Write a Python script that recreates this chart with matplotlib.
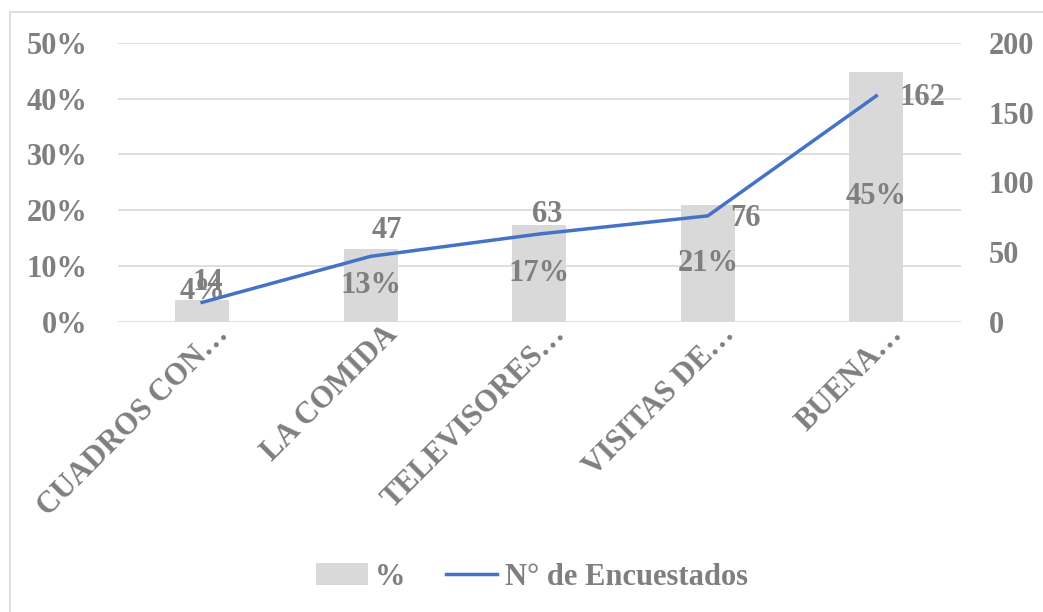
import matplotlib
matplotlib.use("Agg")
import matplotlib.pyplot as plt
from matplotlib.patches import Rectangle
from matplotlib.ticker import PercentFormatter
from matplotlib.transforms import ScaledTranslation

categorias = ["CUADROS CON…", "LA COMIDA", "TELEVISORES…", "VISITAS DE…", "BUENA…"]
encuestados = [14, 47, 63, 76, 162]
porcentaje = [0.039, 0.130, 0.174, 0.210, 0.448]

GRIS = "#7f7f7f"
BARRA = "#d9d9d9"
AZUL = "#4472c4"

plt.rcParams["font.family"] = ["Liberation Serif", "DejaVu Serif"]
plt.rcParams["font.weight"] = "bold"

fig = plt.figure(figsize=(10.43, 6.12), dpi=100)
ax = fig.add_axes([0.113, 0.474, 0.808, 0.456])
ax2 = ax.twinx()

x = list(range(len(categorias)))
ax.bar(x, porcentaje, width=0.32, color=BARRA, zorder=2, label="%")
ax.set_ylim(0, 0.5)
ax.set_yticks([0, 0.1, 0.2, 0.3, 0.4, 0.5])
ax.yaxis.set_major_formatter(PercentFormatter(1.0, decimals=0))
ax.set_xlim(-0.5, len(categorias) - 0.5)
ax.grid(axis="y", color="#d9d9d9", lw=1.2, zorder=0)
ax.set_axisbelow(True)

ax2.plot(x, encuestados, color=AZUL, lw=2.5, zorder=3, label="N° de Encuestados")
ax2.set_ylim(0, 200)
ax2.set_yticks([0, 50, 100, 150, 200])

for a in (ax, ax2):
    for s in a.spines.values():
        s.set_visible(False)
    a.tick_params(length=0, labelsize=22, labelcolor=GRIS)
ax.tick_params(axis="y", pad=22)
ax2.tick_params(axis="y", pad=20)

ax.set_xticks(x)
ax.set_xticklabels(categorias, rotation=45, ha="right", rotation_mode="anchor",
                   fontsize=22, color=GRIS)
desp = ScaledTranslation(0.12, 0.07, fig.dpi_scale_trans)
for lbl in ax.get_xticklabels():
    lbl.set_transform(lbl.get_transform() + desp)

# etiquetas de porcentaje dentro de las barras
for xi, p in zip(x, porcentaje):
    ax.text(xi, max(p / 2, 0.055), f"{p:.0%}", ha="center", va="center",
            fontsize=22, color=GRIS, zorder=4)

# etiquetas de la línea
desplaz = [(6, 20), (16, 26), (8, 20), (38, -3), (46, -2)]
for xi, n, (dx, dy) in zip(x, encuestados, desplaz):
    ax2.annotate(f"{n}", (xi, n), xytext=(dx, dy), textcoords="offset pixels",
                 ha="center", va="center", fontsize=22, color=GRIS, zorder=5)

h1, l1 = ax.get_legend_handles_labels()
h2, l2 = ax2.get_legend_handles_labels()
fig.legend(h1 + h2, l1 + l2, loc="center", bbox_to_anchor=(0.51, 0.057), ncol=2,
           frameon=False, fontsize=22, labelcolor=GRIS, handlelength=1.7,
           handleheight=0.75, handletextpad=0.25, columnspacing=1.3)

fig.patches.append(Rectangle((10 / 1043, -0.1), 1.2, 1 - 12 / 612 + 0.1,
                             transform=fig.transFigure, fill=False,
                             edgecolor="#d9d9d9", lw=1.2))

fig.savefig("out.png", dpi=100)
